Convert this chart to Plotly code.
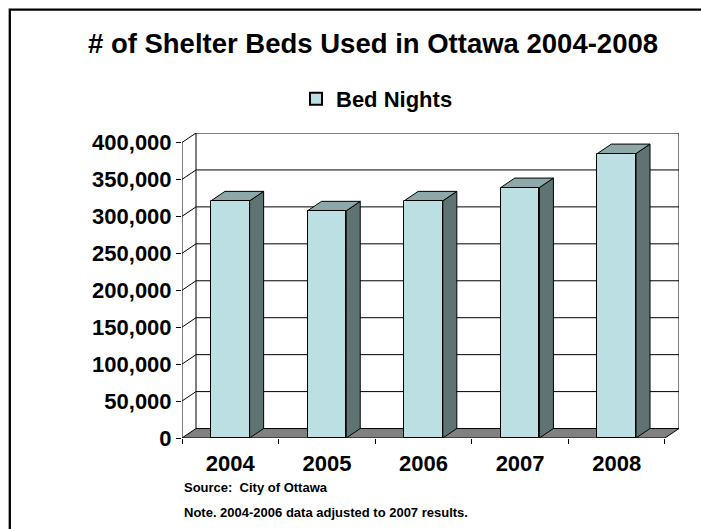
import plotly.graph_objects as go

# ---- data ----
years = ["2004", "2005", "2006", "2007", "2008"]
bed_nights = [321000, 307500, 321000, 339000, 385000]
y_ticks = [0, 50000, 100000, 150000, 200000, 250000, 300000, 350000, 400000]
series_name = "Bed Nights"
title_text = "# of Shelter Beds Used in Ottawa 2004-2008"
source_text = "Source:  City of Ottawa"
note_text = "Note. 2004-2006 data adjusted to 2007 results."

# ---- styling / pseudo-3D depth ----
FONT = "Liberation Sans, Arial, sans-serif"
FRONT = "#BCDFE3"
TOP = "#8CA8A8"
SIDE = "#5F7373"
FLOOR = "#808080"
DX = 0.145        # depth offset in category units
DY = 12800        # depth offset in value units
BW = 0.4          # bar width
YMAX = y_ticks[-1]
n = len(years)
idx = list(range(n))
X0, X1 = -0.5, n - 0.5

W, H = 701, 529
L, R, B = 182, 22, 91
PH = 296 * (YMAX + DY) / YMAX
T = H - B - PH
PW = W - L - R


def px2paper_x(px):
    return (px - L) / PW


def px2paper_y(py):
    return (H - B - py) / PH


def path(pts):
    return "M" + " L".join(f"{x},{y}" for x, y in pts) + " Z"


def openpath(pts):
    return "M" + " L".join(f"{x},{y}" for x, y in pts)


shapes = []
line = dict(color="black", width=1)
# floor
shapes.append(dict(type="path", xref="x", yref="y", layer="below",
                   path=path([(X0, 0), (X1, 0), (X1 + DX, DY), (X0 + DX, DY)]),
                   fillcolor=FLOOR, line=line))
# gridlines (side wall diagonal + back wall horizontal)
for v in y_ticks[1:]:
    shapes.append(dict(type="path", xref="x", yref="y", layer="below",
                       path=openpath([(X0, v), (X0 + DX, v + DY), (X1 + DX, v + DY)]),
                       line=line))
# back wall verticals
for xv in (X0 + DX, X1 + DX):
    shapes.append(dict(type="line", xref="x", yref="y", layer="below",
                       x0=xv, x1=xv, y0=DY, y1=YMAX + DY, line=line))
# front value axis line
shapes.append(dict(type="line", xref="x", yref="y", layer="below",
                   x0=X0, x1=X0, y0=0, y1=YMAX, line=line))
# bar side and top faces
for i, v in zip(idx, bed_nights):
    xl, xr = i - BW / 2, i + BW / 2
    shapes.append(dict(type="path", xref="x", yref="y", layer="below",
                       path=path([(xr, 0), (xr + DX, DY), (xr + DX, v + DY), (xr, v)]),
                       fillcolor=SIDE, line=line))
    shapes.append(dict(type="path", xref="x", yref="y", layer="below",
                       path=path([(xl, v), (xr, v), (xr + DX, v + DY), (xl + DX, v + DY)]),
                       fillcolor=TOP, line=line))
# outer frame
shapes.append(dict(type="rect", xref="paper", yref="paper", layer="above",
                   x0=px2paper_x(9.8), x1=px2paper_x(760),
                   y0=px2paper_y(9), y1=px2paper_y(600),
                   line=dict(color="black", width=2.3), fillcolor="rgba(0,0,0,0)"))

fig = go.Figure()
fig.add_trace(go.Bar(x=idx, y=bed_nights, width=BW, name=series_name,
                     marker=dict(color=FRONT, line=dict(color="black", width=1)),
                     showlegend=True, hoverinfo="skip"))

fig.update_layout(
    width=W, height=H,
    margin=dict(l=L, r=R, t=T, b=B, pad=0),
    paper_bgcolor="white", plot_bgcolor="rgba(0,0,0,0)",
    font=dict(family=FONT, color="black"),
    title=dict(text=title_text, x=373 / W, xanchor="center", xref="container",
               y=1 - 43 / H, yanchor="middle", yref="container",
               font=dict(size=27.5, weight="bold", family=FONT, color="black")),
    showlegend=True,
    legend=dict(orientation="h", x=px2paper_x(377), xanchor="center",
                y=px2paper_y(98.5), yanchor="middle",
                font=dict(size=22, weight="bold", family=FONT, color="black"),
                bgcolor="rgba(0,0,0,0)", itemsizing="constant"),
    xaxis=dict(range=[X0, X1 + DX], tickmode="array", tickvals=idx, ticktext=years,
               ticks="", showgrid=False, zeroline=False, showline=False,
               tickfont=dict(size=22, weight="bold", family=FONT, color="black"),
               ticklabelstandoff=10,
               minor=dict(tickmode="array", tickvals=[k - 0.5 for k in range(n + 1)],
                          ticks="outside", ticklen=5, tickcolor="black", tickwidth=1,
                          showgrid=False)),
    yaxis=dict(range=[0, YMAX + DY], tickmode="array", tickvals=y_ticks,
               tickformat=",", ticks="outside", ticklen=5, tickcolor="black",
               showgrid=False, zeroline=False, showline=False,
               tickfont=dict(size=22, weight="bold", family=FONT, color="black")),
    shapes=shapes,
    bargap=0,
    annotations=[
        dict(text=source_text, xref="paper", yref="paper", x=px2paper_x(182),
             y=px2paper_y(488), xanchor="left", yanchor="middle", showarrow=False,
             font=dict(size=13, weight="bold", family=FONT, color="black")),
        dict(text=note_text, xref="paper", yref="paper", x=px2paper_x(182),
             y=px2paper_y(513), xanchor="left", yanchor="middle", showarrow=False,
             font=dict(size=13, weight="bold", family=FONT, color="black")),
    ],
)

fig.write_html("out.html")
